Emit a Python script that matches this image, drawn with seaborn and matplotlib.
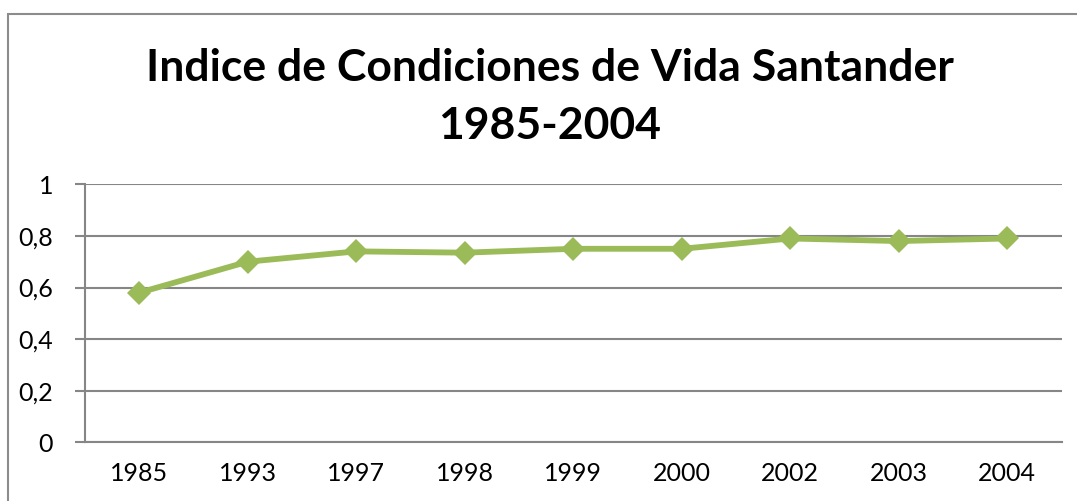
import matplotlib
matplotlib.use("Agg")
import matplotlib.pyplot as plt
import seaborn as sns
import pandas as pd
from matplotlib.patches import Rectangle

years = ["1985", "1993", "1997", "1998", "1999", "2000", "2002", "2003", "2004"]
icv = [0.58, 0.70, 0.74, 0.735, 0.75, 0.75, 0.79, 0.78, 0.79]
yticks = [0, 0.2, 0.4, 0.6, 0.8, 1.0]
ytick_labels = ["0", "0,2", "0,4", "0,6", "0,8", "1"]
title = "Indice de Condiciones de Vida Santander\n1985-2004"

sns.set_style("white")
plt.rcParams["font.family"] = ["Lato", "DejaVu Sans"]

W, H = 1077, 501
fig = plt.figure(figsize=(W / 100, H / 100), dpi=100)
ax = fig.add_axes([85 / W, 1 - 442.3 / H, (1061.5 - 85) / W, (442.3 - 184.3) / H])

df = pd.DataFrame({"year": years, "icv": icv})
sns.lineplot(data=df, x="year", y="icv", sort=False, ax=ax, color="#9BBB59",
             linewidth=4.2, marker="D", markersize=12.5, markeredgewidth=0,
             zorder=5)

ax.set_xlim(-0.5, len(years) - 0.5)
ax.set_ylim(0, 1)
ax.set_yticks(yticks)
ax.set_yticklabels(ytick_labels)
ax.set_xlabel("")
ax.set_ylabel("")
ax.yaxis.grid(True, color="#868686", linewidth=1.5)
ax.xaxis.grid(False)
for s in ["top", "right"]:
    ax.spines[s].set_visible(False)
for s in ["left", "bottom"]:
    ax.spines[s].set_color("#868686")
    ax.spines[s].set_linewidth(1.5)
ax.tick_params(axis="y", length=7, width=1.5, color="#868686", labelsize=18,
               pad=16, left=True)
ax.tick_params(axis="x", length=0, labelsize=18, pad=14)
for t in ax.get_xticklabels() + ax.get_yticklabels():
    t.set_color("black")

fig.text(550 / W, 1 - 97 / H, title, ha="center", va="center",
         fontsize=32, fontweight="bold", linespacing=1.55, color="black")

fig.patches.append(Rectangle((8 / W, -0.1), 1.2, 1 - 14 / H + 0.1,
                             transform=fig.transFigure, fill=False,
                             edgecolor="#8c8c8c", linewidth=1.5))

fig.savefig("out.png", dpi=100)
